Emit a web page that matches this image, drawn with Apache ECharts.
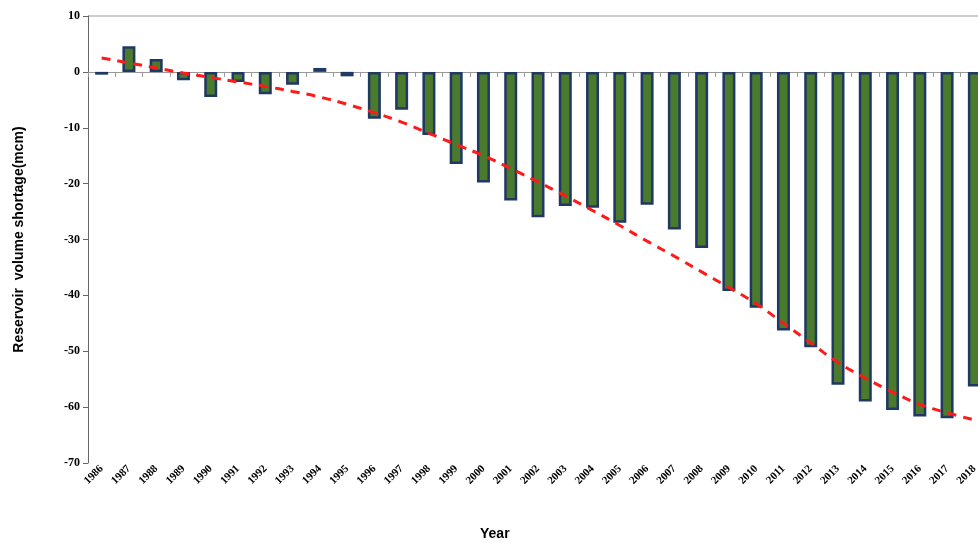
<!DOCTYPE html><html><head><meta charset="utf-8"><script src="https://cdn.jsdelivr.net/npm/echarts@6/dist/echarts.min.js"></script></head><body style="margin:0"><div id="c" style="width:978px;height:543px"></div><script>
const years=[];for(let y=1986;y<=2018;y++)years.push(String(y));
const shortage=[-0.5,4.6,2.3,-1.5,-4.5,-1.8,-4,-2.3,0.7,-0.8,-8.4,-6.8,-11.3,-16.5,-19.8,-23,-26,-24,-24.3,-27,-23.8,-28.2,-31.5,-39.2,-42.2,-46.3,-49.3,-56,-59,-60.5,-61.7,-62,-56.3];
const trend=[2.5,1.6,0.7,-0.2,-1.0,-1.8,-2.6,-3.5,-4.5,-5.8,-7.3,-9.0,-11,-13,-15,-17.3,-19.7,-22.2,-24.8,-27.5,-30.3,-33,-35.8,-38.6,-41.5,-45,-48.5,-52,-54.8,-57.3,-59.5,-61,-62.3];
const c=echarts.init(document.getElementById('c'));
c.setOption({animation:false,
grid:{left:88,top:16,width:900,height:447,outerBoundsMode:'none',containLabel:false},
xAxis:{type:'category',data:years,axisLine:{onZero:true,lineStyle:{color:'#999'}},axisTick:{show:true,lineStyle:{color:'#999'}},
axisLabel:{rotate:45,interval:0,fontFamily:'Liberation Serif',fontWeight:'bold',fontSize:11,color:'#000',margin:4}},
yAxis:{type:'value',min:-70,max:10,interval:10,axisLine:{show:true,lineStyle:{color:'#666'}},axisTick:{show:true,lineStyle:{color:'#666'}},
splitLine:{show:false},axisLabel:{fontFamily:'Liberation Serif',fontWeight:'bold',fontSize:12,color:'#000'},
name:'Reservoir  volume shortage(mcm)',nameLocation:'middle',nameGap:62,nameTextStyle:{fontFamily:'Liberation Sans',fontWeight:'bold',fontSize:14,color:'#000'}},
graphic:[{type:'line',shape:{x1:88,y1:16,x2:978,y2:16},style:{stroke:'#bbb',lineWidth:1.5}},
{type:'text',left:480,top:527,style:{text:'Year',font:'bold 14px Liberation Sans',fill:'#000'}}],
series:[{type:'bar',data:shortage,barWidth:13,itemStyle:{color:'#4a7a2c',borderColor:'#1f3864',borderWidth:2.5}},
{type:'line',data:trend,smooth:true,symbol:'none',lineStyle:{color:'#ff1a1a',width:3,type:[9,7]},z:5}]
});
</script></body></html>
